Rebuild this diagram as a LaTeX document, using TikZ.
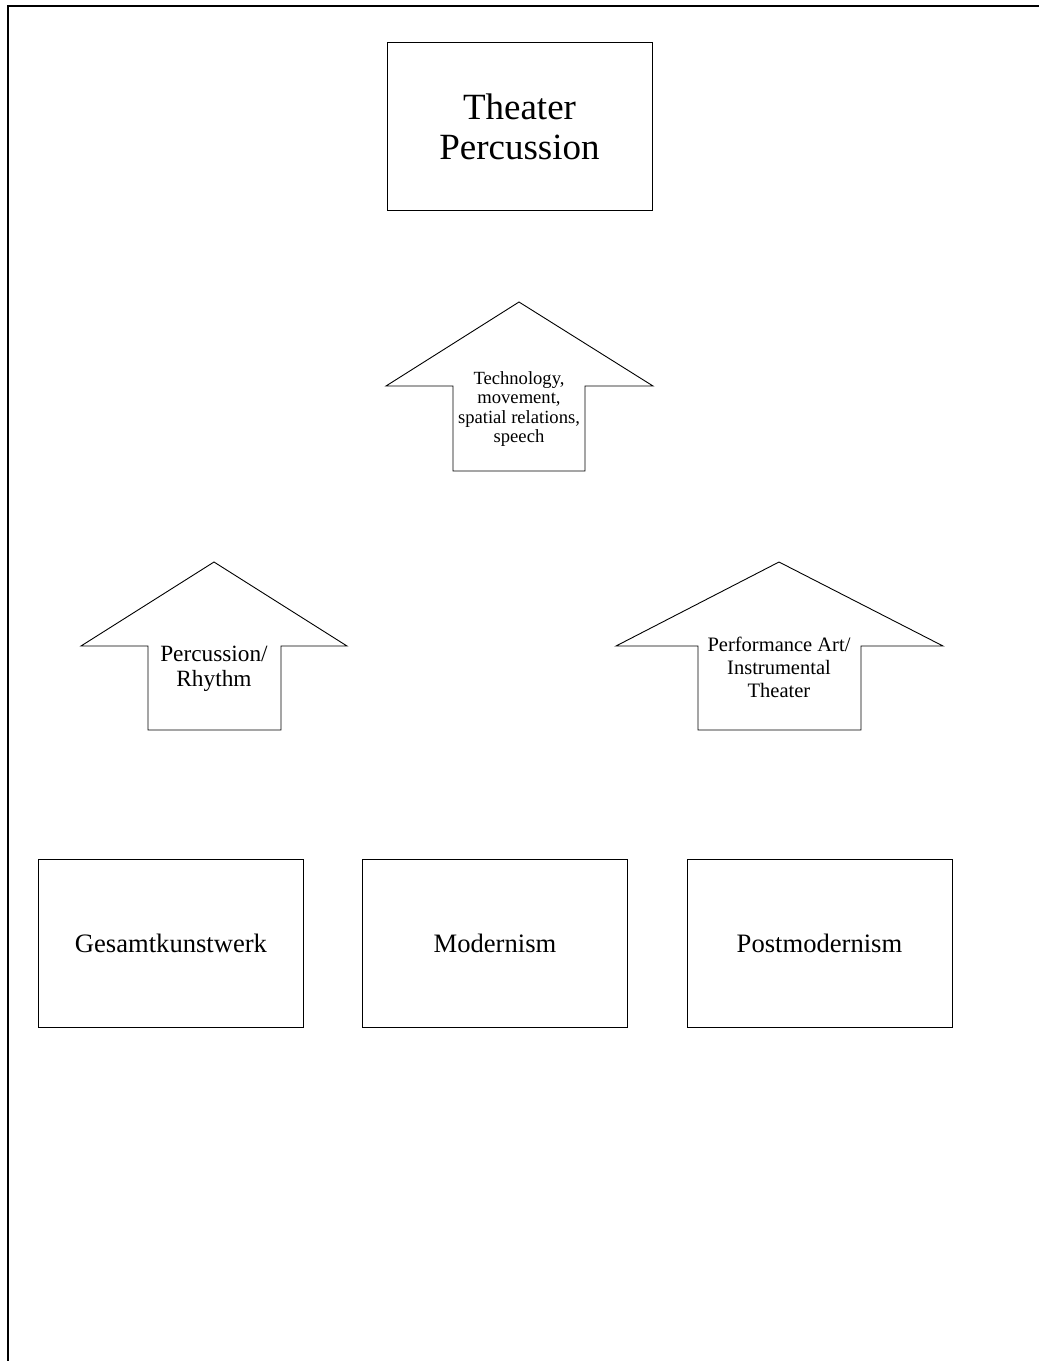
\documentclass[tikz,border=0pt]{standalone}
\usepackage{fontspec}
\setmainfont{Liberation Serif}
\tikzset{
    block/.style = {draw, line width=0.9pt, minimum width=265pt, minimum height=168pt, inner sep=0pt, align=center},
    arrowshape/.style = {draw, line width=0.9pt},
    arrowtext/.style = {align=center, inner sep=0pt}
}
\begin{document}
\begin{tikzpicture}[x=1pt, y=-1pt]
                \useasboundingbox (0,0) rectangle (1039,1361);
                \draw[line width=2pt] (8,1370) -- (8,6) -- (1045,6);
                % top box
                \node[block, font=\fontsize{37}{40}\selectfont] (theater) at (519.5,126.5) {Theater\\Percussion};
                % arrows
                \draw[arrowshape] (386,386) -- (519,302) -- (653,386) -- (585,386) -- (585,471) -- (453,471) -- (453,386) -- cycle;
                \draw[arrowshape] (81,646) -- (214,562) -- (347,646) -- (281,646) -- (281,730) -- (148,730) -- (148,646) -- cycle;
                \draw[arrowshape] (616,646) -- (779,562) -- (943,646) -- (861,646) -- (861,730) -- (698,730) -- (698,646) -- cycle;
                \node[arrowtext, font=\fontsize{18.6}{19.5}\selectfont] (tech) at (519,409) {Technology,\\movement,\\spatial relations,\\speech};
                \node[arrowtext, font=\fontsize{23.3}{25.5}\selectfont] (rhythm) at (214,669) {Percussion/\\Rhythm};
                \node[arrowtext, font=\fontsize{20.5}{23}\selectfont] (perfart) at (779,667) {Performance Art/\\Instrumental\\Theater};
                % bottom boxes
                \node[block, font=\fontsize{26.6}{30}\selectfont] (gesamt) at (171,943.5) {Gesamtkunstwerk};
                \node[block, font=\fontsize{26.6}{30}\selectfont] (modern) at (495,943.5) {Modernism};
                \node[block, font=\fontsize{26.6}{30}\selectfont] (postmodern) at (819.5,943.5) {Postmodernism};
\end{tikzpicture}
\end{document}
